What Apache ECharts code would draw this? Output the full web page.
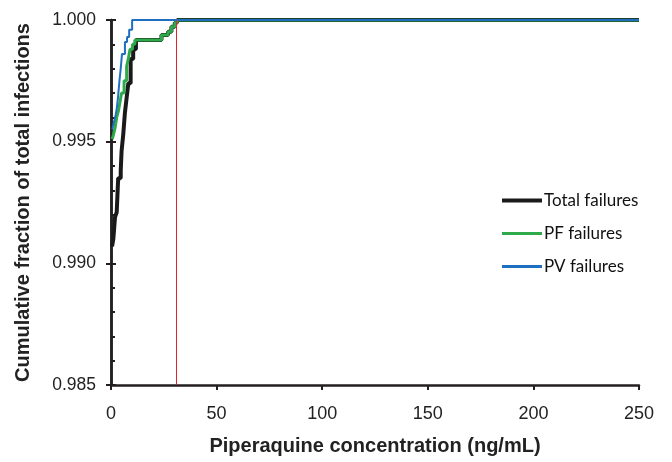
<!DOCTYPE html>
<html><head><meta charset="utf-8">
<script src="https://cdn.jsdelivr.net/npm/echarts@6/dist/echarts.min.js"></script>
<style>html,body{margin:0;padding:0;background:#fff}#c{width:672px;height:462px}</style>
</head><body><div id="c"></div>
<script>
// Data
const totalX = [0.5, 1.1, 1.9, 2.7, 3.4, 4.6, 5.0, 5.8, 6.6, 7.4, 8.2, 9.3, 10.5, 11.8, 23.9, 27.0, 28.6, 30.2, 31.3, 250];
const totalY = [0.9907, 0.9910, 0.9919, 0.9921, 0.9935, 0.9938, 0.9946, 0.9953, 0.9962, 0.9968, 0.9974, 0.9984, 0.9988, 0.99918, 0.99938, 0.99952, 0.99972, 0.99989, 1.0, 1.0];
const pfX = [0.6, 1.2, 2.0, 2.7, 3.6, 4.4, 5.0, 6.2, 7.4, 8.2, 9.0, 10.2, 11.3, 23.9, 27.0, 28.6, 30.2, 31.3, 250];
const pfY = [0.9951, 0.9953, 0.9956, 0.9960, 0.9963, 0.9967, 0.9970, 0.9975, 0.9981, 0.9984, 0.9988, 0.9990, 0.99918, 0.99938, 0.99952, 0.99972, 0.99989, 1.0, 1.0];
const pvX = [0.6, 1.4, 2.2, 2.8, 3.4, 4.0, 4.6, 5.2, 6.6, 7.6, 8.6, 10.0, 250];
const pvY = [0.9955, 0.9958, 0.9961, 0.9964, 0.9969, 0.9975, 0.9980, 0.9986, 0.9991, 0.9993, 0.9996, 1.0, 1.0];
const seriesNames = ['Total failures', 'PF failures', 'PV failures'];
const cutoff = 31;
const xTicks = [0, 50, 100, 150, 200, 250];
const yTicks = [0.985, 0.990, 0.995, 1.000];

const zip = (xs, ys) => xs.map((x, i) => [x, ys[i]]);
// legend line icon of a given thickness inside a 40x14 box
const lineIcon = t => 'path://M0,0h0.01v0.01h-0.01Z M0,' + (7 - t / 2) + 'h40v' + t + 'h-40Z M39.99,13.99h0.01v0.01h-0.01Z';
const chart = echarts.init(document.getElementById('c'));
const axisColor = '#231f20';
const yBase = {
  type: 'value', min: yTicks[0], max: yTicks[yTicks.length - 1], interval: 0.005,
  position: 'left',
  axisLine: { show: true, lineStyle: { color: axisColor, width: 2.5 } },
  splitLine: { show: false }
};
chart.setOption({
  animation: false,
  grid: { left: 111, top: 20, right: 33, bottom: 77 },
  legend: {
    orient: 'vertical', left: 497, top: 187, itemGap: 16, itemWidth: 40, itemHeight: 14,
    data: [
      { name: seriesNames[0], icon: lineIcon(4) },
      { name: seriesNames[1], icon: lineIcon(3) },
      { name: seriesNames[2], icon: lineIcon(3) }
    ],
    textStyle: { fontFamily: 'Lato', fontSize: 17, color: '#111', padding: [0, 0, 0, -3] }
  },
  xAxis: {
    type: 'value', min: xTicks[0], max: xTicks[xTicks.length - 1], interval: 50,
    axisLine: { onZero: false, lineStyle: { color: axisColor, width: 2.5 } },
    axisTick: { show: true, length: 5, lineStyle: { color: axisColor, width: 2 } },
    axisLabel: { fontFamily: 'Liberation Sans', fontSize: 18, color: '#222', margin: 20 },
    splitLine: { show: false },
    name: 'Piperaquine concentration (ng/mL)', nameLocation: 'middle', nameGap: 51,
    nameTextStyle: { fontFamily: 'Liberation Sans', fontSize: 20, fontWeight: 'bold', color: '#222' }
  },
  yAxis: [
    Object.assign({}, yBase, {
      axisTick: { show: true, length: 5, lineStyle: { color: axisColor, width: 2 } },
      axisLabel: { fontFamily: 'Liberation Sans', fontSize: 17.5, color: '#222', margin: 15,
        formatter: v => v.toFixed(3) },
      name: 'Cumulative fraction of total infections', nameLocation: 'middle', nameGap: 78,
      nameTextStyle: { fontFamily: 'Liberation Sans', fontSize: 20, fontWeight: 'bold', color: '#222' }
    }),
    Object.assign({}, yBase, {
      axisTick: { show: true, inside: true, length: 5, lineStyle: { color: axisColor, width: 2 } },
      minorTick: { show: true, splitNumber: 5, length: 4, lineStyle: { color: axisColor, width: 2 } },
      axisLabel: { show: false }
    })
  ],
  series: [
    { name: seriesNames[0], type: 'line', step: 'end', showSymbol: false, symbol: 'none',
      data: zip(totalX, totalY), lineStyle: { color: '#1a1a1a', width: 4 }, itemStyle: { color: '#1a1a1a' },
      markLine: { silent: true, symbol: 'none', label: { show: false },
        lineStyle: { color: '#e2242a', width: 1, type: 'solid' }, data: [{ xAxis: cutoff }] } },
    { name: seriesNames[1], type: 'line', step: 'end', showSymbol: false, symbol: 'none',
      data: zip(pfX, pfY), lineStyle: { color: '#2eaa4a', width: 3 }, itemStyle: { color: '#2eaa4a' } },
    { name: seriesNames[2], type: 'line', step: 'end', showSymbol: false, symbol: 'none',
      data: zip(pvX, pvY), lineStyle: { color: '#1f6fc0', width: 2 }, itemStyle: { color: '#1f6fc0' } }
  ]
});
</script></body></html>
